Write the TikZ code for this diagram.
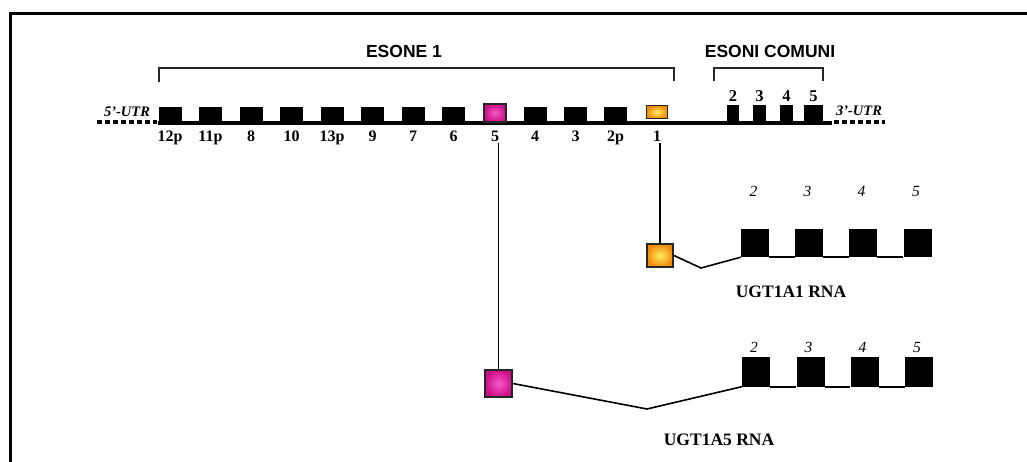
\documentclass[tikz,border=0pt]{standalone}
\usepackage{fontspec}
\setmainfont{Liberation Serif}
\setsansfont{Liberation Sans}
\definecolor{orgOut}{RGB}{240,140,10}
\definecolor{orgIn}{RGB}{255,238,100}
\definecolor{magOut}{RGB}{205,15,135}
\definecolor{magIn}{RGB}{245,90,200}
\begin{document}
\begin{tikzpicture}[x=1pt,y=-1pt,
  exon/.style={fill=black, inner sep=0pt, minimum width=23pt, minimum height=16pt},
  cexon/.style={fill=black, inner sep=0pt, minimum height=18pt},
  rexon/.style={fill=black, inner sep=0pt, minimum width=28pt, minimum height=29pt},
  orgbox/.style={draw=black!85, line width=1.8pt, inner color=orgIn, outer color=orgOut, inner sep=0pt},
  magbox/.style={draw=black!85, line width=1.8pt, inner color=magIn, outer color=magOut, inner sep=0pt},
  elabel/.style={font=\fontsize{16}{18}\selectfont\bfseries, anchor=base, inner sep=1pt},
  clabel/.style={font=\fontsize{16.5}{18}\selectfont\bfseries, anchor=base, inner sep=1pt},
  ilabel/.style={font=\fontsize{15.5}{17}\selectfont\itshape, anchor=base, inner sep=1pt},
  rnalabel/.style={font=\fontsize{17.5}{19}\selectfont\bfseries, anchor=base, inner sep=0pt},
  utr/.style={font=\fontsize{14.5}{16}\selectfont\bfseries\itshape, anchor=base, inner sep=0pt},
  head/.style={font=\fontsize{17.5}{20}\selectfont\sffamily\bfseries, anchor=base, inner sep=0pt},
  conn/.style={line width=1.6pt},
  bracket/.style={line width=1.5pt, black!85},
  dots/.style={line width=4.5pt, dash pattern=on 4.5pt off 3.5pt}
]
\clip (0,0) rectangle (1027,462);
\fill[white] (0,0) rectangle (1027,462);
% frame
\draw[line width=2.5pt] (10.5,480) -- (10.5,13.5) -- (1040,13.5);

% headings and brackets
\node[head] (h1) at (404,58) {ESONE 1};
\node[head] (h2) at (770,58) {ESONI COMUNI};
\draw[bracket] (159,82) -- (159,68) -- (674,68) -- (674,81);
\draw[bracket] (714,81) -- (714,68) -- (823,68) -- (823,81);

% gene backbone and UTR ends
\coordinate (gL) at (158,123);
\coordinate (gR) at (832,123);
\coordinate (u5a) at (97,122);
\coordinate (u5b) at (157,122);
\coordinate (u3a) at (834,122);
\coordinate (u3b) at (885,122);
\draw[line width=4pt] (gL) -- (gR);
\draw[dots] (u5a) -- (u5b);
\draw[dots] (u3a) -- (u3b);
\node[utr] (t5) at (127,117) {5'-UTR};
\node[utr] (t3) at (859,116) {3'-UTR};

% first exons
\foreach \n/\x/\t in {e12p/170/12p, e11p/210.5/11p, e8/251/8, e10/291.5/10, e13p/332/13p,
  e9/372.5/9, e7/413/7, e6/453.5/6, e4/535/4, e3/575.5/3, e2p/615.5/2p}
{
  \node[exon] (\n) at (\x,115) {};
  \node[elabel] (l\n) at (\x,142) {\t};
}
\node[magbox, minimum width=22pt, minimum height=18pt] (e5) at (495,113) {};
\node[elabel] (le5) at (495,142) {5};
\node[orgbox, minimum width=21pt, minimum height=13pt] (e1) at (657,112) {};
\node[elabel] (le1) at (657,142) {1};

% common exons
\node[cexon, minimum width=12pt] (c2) at (733,114) {};
\node[cexon, minimum width=13pt] (c3) at (759.5,114) {};
\node[cexon, minimum width=13pt] (c4) at (786.5,114) {};
\node[cexon, minimum width=19pt] (c5) at (813.5,114) {};
\node[clabel] (lc2) at (733,102) {2};
\node[clabel] (lc3) at (759.5,102) {3};
\node[clabel] (lc4) at (786.5,102) {4};
\node[clabel] (lc5) at (813.5,102) {5};

% UGT1A1 transcript
\node[orgbox, minimum width=26pt, minimum height=23pt] (a1x1) at (660,255.5) {};
\foreach \n/\x in {2/755, 3/809, 4/863, 5/917.5}
{
  \node[rexon, minimum height=28pt] (a1x\n) at (\x,243) {};
  \node[ilabel] (a1l\n) at (\x-1.5,197) {\n};
}
\coordinate (a1v) at (701,268);
\draw[conn] (a1x1.east) -- (a1v) -- (a1x2.south west);
\draw[conn] (a1x2.south east) -- (a1x3.south west);
\draw[conn] (a1x3.south east) -- (a1x4.south west);
\draw[conn] (a1x4.south east) -- (a1x5.south west);
\node[rnalabel] (a1name) at (791,297) {UGT1A1 RNA};
\draw[conn] (a1x1.north) -- (a1x1.north |- le1.south);

% UGT1A5 transcript
\node[magbox, minimum width=27pt, minimum height=27pt] (a5x1) at (498.5,383.5) {};
\foreach \n/\x in {2/756, 3/810.5, 4/864.5, 5/919}
{
  \node[rexon, minimum height=30pt] (a5x\n) at (\x,371.5) {};
  \node[ilabel] (a5l\n) at (\x-2,352) {\n};
}
\coordinate (a5v) at (647,409);
\draw[conn] (a5x1.east) -- (a5v) -- (a5x2.south west);
\draw[conn] (a5x2.south east) -- (a5x3.south west);
\draw[conn] (a5x3.south east) -- (a5x4.south west);
\draw[conn] (a5x4.south east) -- (a5x5.south west);
\node[rnalabel] (a5name) at (719,445) {UGT1A5 RNA};
\draw[conn] (a5x1.north) -- (a5x1.north |- le5.south);
\end{tikzpicture}
\end{document}
